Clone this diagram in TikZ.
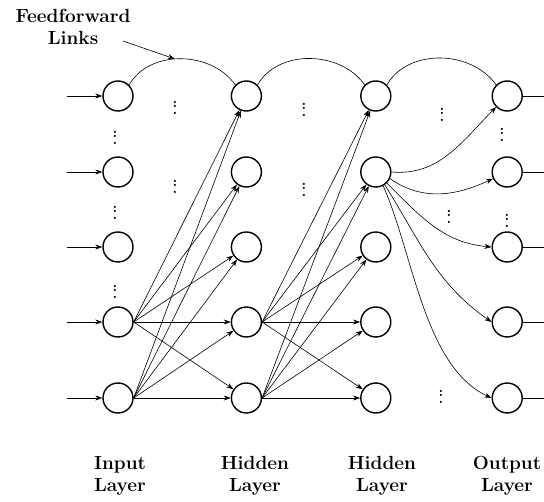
\documentclass[tikz,border=0pt]{standalone}
\usepackage{fontspec}
\usetikzlibrary{arrows.meta, positioning}

\newcommand{\vdotsbold}{\vbox{\offinterlineskip\hbox{.}\kern1.8pt\hbox{.}\kern5.5pt\hbox{.}}}

\begin{document}
\begin{tikzpicture}[
        x=1pt, y=1pt,
        font=\fontsize{19}{22}\selectfont\bfseries,
        neuron/.style={draw, circle, line width=1.4pt, minimum size=30pt, inner sep=0pt},
        link/.style={-{Stealth[length=7pt, width=5pt]}, line width=0.6pt},
        plain/.style={line width=0.6pt},
        lbl/.style={align=center, inner sep=0pt, anchor=north},
        vd/.style={inner sep=0pt, font=\fontsize{15}{15}\selectfont\bfseries}
    ]
    \useasboundingbox (0,0) rectangle (544,-502);

    % Neurons: input, two hidden layers, output
    \foreach \r/\y in {1/-96, 2/-172, 3/-247, 4/-322, 5/-398} {
        \node[neuron] (in\r) at (118,\y) {};
        \node[neuron, right=97pt of in\r] (hida\r) {};
        \node[neuron, right=98pt of hida\r] (hidb\r) {};
        \node[neuron, right=100pt of hidb\r] (out\r) {};
        \draw[link] ([xshift=-35pt]in\r.west) -- (in\r.west);
        \draw[plain] (out\r.east) -- ++(26,0);
    }

    % Full connections from the two lowest neurons
    \foreach \s in {4,5} {
        \foreach \t in {1,...,5} {
            \draw[link] (in\s.east) -- (hida\t);
            \draw[link] (hida\s.east) -- (hidb\t);
        }
    }

    % Feedforward links along the top row
    \draw[plain] (in1.north east) to[out=60, in=125] coordinate[pos=0.45] (ffpeak) (hida1.north west);
    \draw[plain] (hida1.north east) to[out=60, in=125] (hidb1.north west);
    \draw[plain] (hidb1.north east) to[out=60, in=125] (out1.north west);

    % Second hidden layer to output
    \draw[link] (hidb2.east) to[out=-5, in=225] (out1);
    \draw[link] (hidb2.-25) to[out=-35, in=205] (out2);
    \draw[link] (hidb2.-45) to[out=-45, in=175] (out3.west);
    \draw[link] (hidb2.-55) to[out=-58, in=145] (out4.west);
    \draw[link] (hidb2.-62) to[out=-66, in=155, looseness=0.8] (out5.west);

    % Label
    \node[lbl] (fflabel) at (73,-9) {Feedforward\\Links};
    \coordinate (fftail) at (123,-41);
    \draw[link] (fftail) -- (ffpeak);

    % Layer names
    \node[lbl] (inlbl) at (120,-456) {Input\\Layer};
    \node[lbl] (hidalbl) at (255,-456) {Hidden\\Layer};
    \node[lbl] (hidblbl) at (382,-456) {Hidden\\Layer};
    \node[lbl] (outlbl) at (507,-456) {Output\\Layer};

    % Dots
    \foreach \x/\y [count=\k] in {115/138, 115/213, 115/292, 175/108, 175/187,
            304/110, 304/190, 442/115, 449/217, 441/397, 502/135, 507/221}
        \node[vd] (dots\k) at (\x,-\y) {\vdotsbold};

\end{tikzpicture}
\end{document}
